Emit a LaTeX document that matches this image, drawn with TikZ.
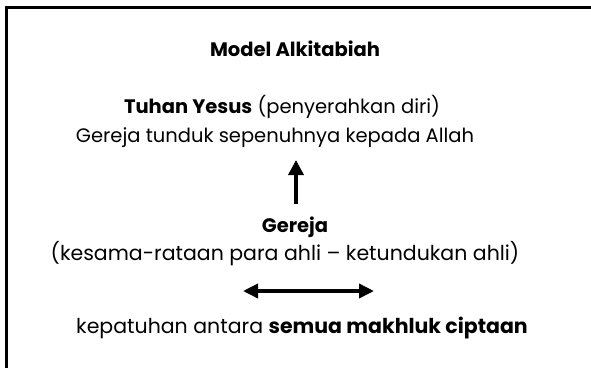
\documentclass[tikz,border=0pt]{standalone}
\usepackage{fontspec}
\setmainfont{Poppins}
\usetikzlibrary{arrows.meta}
\tikzset{
  txt/.style={anchor=base, inner sep=0pt, font=\fontsize{19.5}{22}\selectfont},
  arr/.style={line width=3.5pt, -{Triangle[length=15pt,width=15pt]}},
  darr/.style={line width=3.5pt, {Triangle[length=15pt,width=14pt]}-{Triangle[length=15pt,width=14pt]}},
  frame/.style={line width=3pt, line cap=rect}
}
\begin{document}
\begin{tikzpicture}[x=1pt,y=-1pt]
\useasboundingbox (0,0) rectangle (591,367);
\coordinate (tr) at (591,7);
\coordinate (tl) at (6,7);
\coordinate (bl) at (6,367);
\draw[frame] (tr) -- (tl) -- (bl);
\node[txt] (title) at (295,56) {\textbf{Model Alkitabiah}};
\node[txt] (tuhan) at (282,113) {\textbf{Tuhan Yesus} (penyerahkan diri)};
\node[txt] (tunduk) at (275,142) {Gereja tunduk sepenuhnya kepada Allah};
\node[txt] (gereja) at (295,232) {\textbf{Gereja}};
\node[txt] (kesama) at (285,260) {\fontsize{20.5}{22}\selectfont(kesama-rataan para ahli -- ketundukan ahli)};
\node[txt] (kepat) at (302,333) {\fontsize{20.5}{22}\selectfont kepatuhan antara \textbf{semua makhluk ciptaan}};
\coordinate (upS) at (296,204);
\coordinate (upE) at (296,160);
\draw[arr] (upS) -- (upE);
\coordinate (dL) at (243,291);
\coordinate (dR) at (374,291);
\draw[darr] (dL) -- (dR);
\end{tikzpicture}
\end{document}
